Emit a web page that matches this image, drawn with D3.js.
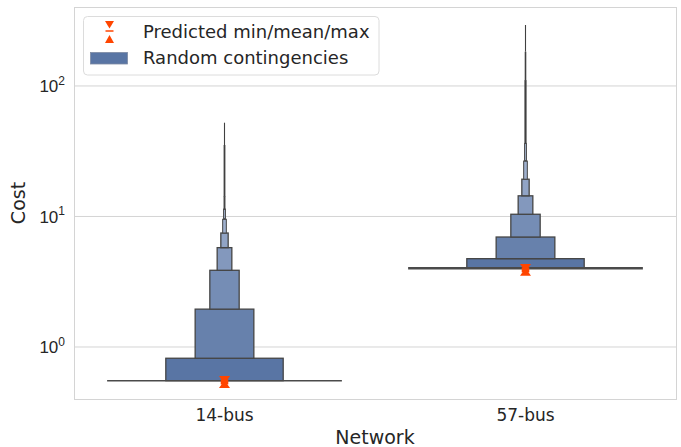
<!DOCTYPE html>
<html>
<head>
<meta charset="utf-8">
<script src="https://cdn.jsdelivr.net/npm/d3@7"></script>
<style>
  html, body { margin: 0; padding: 0; background: #fff; }
  svg { display: block; font-family: "DejaVu Sans", sans-serif; }
</style>
</head>
<body>
<svg id="chart" width="681" height="447"></svg>
<script>
// ---------------- data ----------------
const categories = ["14-bus", "57-bus"];
// upper edges of the letter-value boxes (widest first)
const boxUppers14 = [0.82, 1.95, 3.87, 5.77, 7.47, 9.52, 11.4, 14.2];
const boxUppers57 = [4.75, 6.96, 10.4, 14.4, 19.3, 26.6, 36.3];
const medians = [0.552, 4.01];
// dense outlier runs above the boxes (value where each run ends, lowest first)
const outlierRuns14 = [35.3, 52.3];
const outlierRuns57 = [111, 183, 293];
const predMin = [0.538, 3.89];
const predMean = [0.54, 3.9];
const predMax = [0.542, 3.91];
const yTicks = [1, 10, 100];
const legendLabels = ["Predicted min/mean/max", "Random contingencies"];

// ---------------- layout ----------------
const svg = d3.select("#chart");
const plot = { left: 74, right: 676, top: 7, bottom: 399 };
const textColor = "#262626";
const gridColor = "#d4d4d4";
const boxColor = "#5975a4";
const edgeColor = "#454545";
const markerColor = "#ff4500";

const x = d3.scaleBand().domain(categories).range([plot.left, plot.right]).padding(0);
const y = d3.scaleLog().domain([0.3995, 402.7]).range([plot.bottom, plot.top]);

// grid
svg.append("g").selectAll("line").data(yTicks).join("line")
  .attr("x1", plot.left).attr("x2", plot.right)
  .attr("y1", d => y(d)).attr("y2", d => y(d))
  .attr("stroke", gridColor).attr("stroke-width", 1);

// frame
svg.append("rect")
  .attr("x", plot.left + 0.5).attr("y", plot.top + 0.5)
  .attr("width", plot.right - plot.left).attr("height", plot.bottom - plot.top)
  .attr("fill", "none").attr("stroke", gridColor).attr("stroke-width", 1);

// y axis labels
const yAxis = svg.append("g").attr("transform", `translate(${plot.left},0)`)
  .call(d3.axisLeft(y).tickValues(yTicks).tickSize(0).tickPadding(9).tickFormat(""));
yAxis.select(".domain").remove();
yAxis.selectAll(".tick text").each(function(d) {
  const t = d3.select(this);
  t.attr("fill", textColor).attr("font-size", 17).attr("text-anchor", "end").attr("dy", "0.35em");
  t.append("tspan").text("10");
  t.append("tspan").attr("font-size", 12).attr("dy", "-0.65em").text(String(Math.round(Math.log10(d))));
});

// x axis labels
const xAxis = svg.append("g").attr("transform", `translate(0,${plot.bottom})`)
  .call(d3.axisBottom(x).tickSize(0).tickPadding(10));
xAxis.select(".domain").remove();
xAxis.selectAll(".tick text").attr("fill", textColor).attr("font-size", 17)
  .attr("font-family", "DejaVu Sans");

// axis titles
svg.append("text").attr("x", (plot.left + plot.right) / 2).attr("y", 444)
  .attr("text-anchor", "middle").attr("fill", textColor).attr("font-size", 19).text("Network");
svg.append("text").attr("transform", `translate(25,${(plot.top + plot.bottom) / 2}) rotate(-90)`)
  .attr("text-anchor", "middle").attr("fill", textColor).attr("font-size", 19).text("Cost");

// ---------------- boxen plots ----------------
const groups = [
  { cat: categories[0], uppers: boxUppers14, median: medians[0], runs: outlierRuns14 },
  { cat: categories[1], uppers: boxUppers57, median: medians[1], runs: outlierRuns57 }
];
const step = x.bandwidth();
const lighten = d3.interpolateRgb(boxColor, "#c4d0e4");

groups.forEach((g, gi) => {
  const cx = x(g.cat) + step / 2;
  const gEl = svg.append("g");
  // outlier runs (drawn as a vertical line, thicker where denser)
  const lastTop = g.uppers[g.uppers.length - 1];
  const runWidths = g.runs.length === 2 ? [1.8, 1.1] : [2.2, 1.6, 1.1];
  g.runs.forEach((v, i) => {
    const from = i === 0 ? lastTop : g.runs[i - 1];
    gEl.append("line").attr("x1", cx).attr("x2", cx)
      .attr("y1", y(from)).attr("y2", y(v))
      .attr("stroke", "#404040").attr("stroke-width", runWidths[i]);
  });
  // boxes
  g.uppers.forEach((u, k) => {
    const lo = k === 0 ? g.median : g.uppers[k - 1];
    const w = 0.39 * step / Math.pow(2, k);
    gEl.append("rect")
      .attr("x", cx - w / 2).attr("width", w)
      .attr("y", y(u)).attr("height", y(lo) - y(u))
      .attr("fill", lighten(Math.min(1, k * 0.13)))
      .attr("stroke", edgeColor).attr("stroke-width", k < 5 ? 1.3 : 1);
  });
  // median line
  gEl.append("line")
    .attr("x1", cx - 0.39 * step).attr("x2", cx + 0.39 * step)
    .attr("y1", y(g.median)).attr("y2", y(g.median))
    .attr("stroke", "#4a4a4a").attr("stroke-width", gi === 0 ? 1.5 : 2.5);

  // predicted markers: caret down at max, caret up at min, mean line
  const mx = y(predMax[gi]), mn = y(predMin[gi]), me = y(predMean[gi]);
  const hw = 5.5, h = 5.8;
  gEl.append("path")
    .attr("d", `M${cx - hw},${mx - h}L${cx + hw},${mx - h}L${cx},${mx + 2}Z`)
    .attr("fill", markerColor);
  gEl.append("path")
    .attr("d", `M${cx - hw},${mn + h}L${cx + hw},${mn + h}L${cx},${mn - 2}Z`)
    .attr("fill", markerColor);
  gEl.append("line").attr("x1", cx - 3.8).attr("x2", cx + 3.8)
    .attr("y1", me).attr("y2", me).attr("stroke", markerColor).attr("stroke-width", 5);
});

// ---------------- legend ----------------
const lg = svg.append("g");
lg.append("rect").attr("x", 83.5).attr("y", 16.5).attr("width", 295.5).attr("height", 58.5)
  .attr("rx", 4).attr("fill", "rgba(255,255,255,0.85)").attr("stroke", "#dcdcdc");
// marker handle
const lx = 109.5;
lg.append("path").attr("d", `M${lx - 4.5},21L${lx + 4.5},21L${lx},28.5Z`).attr("fill", markerColor);
lg.append("line").attr("x1", lx - 4).attr("x2", lx + 4).attr("y1", 31).attr("y2", 31)
  .attr("stroke", markerColor).attr("stroke-width", 1.5);
lg.append("path").attr("d", `M${lx - 4.5},43L${lx + 4.5},43L${lx},35Z`).attr("fill", markerColor);
// patch handle
lg.append("rect").attr("x", 90.5).attr("y", 52.5).attr("width", 37).attr("height", 11.5)
  .attr("fill", boxColor).attr("stroke", "#7d8aa3").attr("stroke-width", 0.8);
lg.selectAll("text.lab").data(legendLabels).join("text").attr("class", "lab")
  .attr("x", 143).attr("y", (d, i) => 32 + i * 26).attr("dy", "0.35em")
  .attr("fill", textColor).attr("font-size", 18).text(d => d);
</script>
</body>
</html>
